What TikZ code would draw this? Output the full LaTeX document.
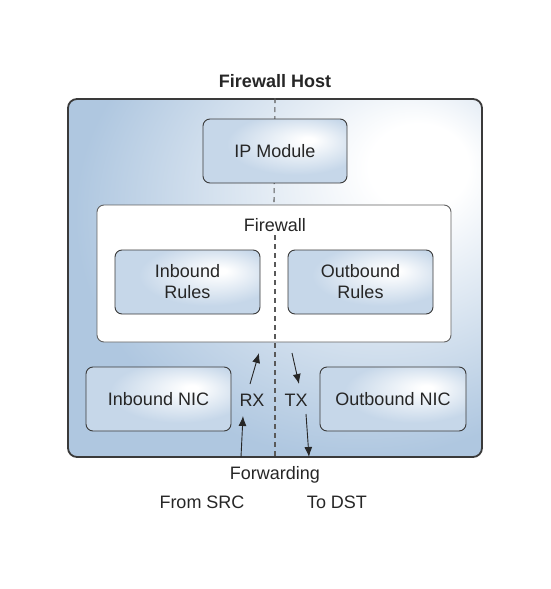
\documentclass[tikz,border=0pt]{standalone}
\usepackage{fontspec}
\setmainfont{Liberation Sans}
\usetikzlibrary{arrows.meta}
\definecolor{hostblue}{HTML}{AFC7E0}
\definecolor{boxblue}{HTML}{C6D7E9}
\definecolor{edgegray}{HTML}{3A3A3A}
\pgfdeclareradialshading{hostglow}{\pgfpoint{19bp}{17bp}}{color(0bp)=(white); color(6bp)=(white); color(34bp)=(hostblue); color(70bp)=(hostblue)}
\pgfdeclareradialshading{boxglow}{\pgfpoint{12bp}{9bp}}{color(0bp)=(white); color(2bp)=(white); color(24bp)=(boxblue); color(60bp)=(boxblue)}
\begin{document}
\begin{tikzpicture}[x=1pt,y=-1pt,
    every node/.style={font=\fontsize{18}{21}\selectfont, text=black!85},
    hostbox/.style={draw=edgegray, line width=1.8pt, rounded corners=9pt, shade, shading=hostglow},
    unitbox/.style={draw=edgegray, line width=0.9pt, rounded corners=7pt, shade, shading=boxglow, align=center, minimum width=145pt, minimum height=64pt},
    fwbox/.style={draw=edgegray!80, line width=0.9pt, fill=white, rounded corners=7pt},
    divider/.style={draw=black!65, line width=1.1pt, dash pattern=on 5pt off 4pt},
    flow/.style={draw=black!85, line width=0.9pt, -{Latex[length=10pt,width=8pt]}}]
      \useasboundingbox (0,0) rectangle (550,589);

      \node[font=\fontsize{18}{21}\selectfont\bfseries] (title) at (275,81) {Firewall Host};
      \node[hostbox, minimum width=414pt, minimum height=358pt] (host) at (275,278) {};

      \node[fwbox, minimum width=354pt, minimum height=137pt] (fw) at (274,273.5) {};
      \node (fwlabel) at (275,225) {Firewall};

      \draw[divider] (host.north) -- (fw.north);
      \draw[divider] (fwlabel.south) -- (host.south);

      \node[unitbox, minimum width=144pt] (ipm) at (275,151) {IP Module};
      \node[unitbox] (inrules) at (187.5,282) {Inbound\\Rules};
      \node[unitbox] (outrules) at (360.5,282) {Outbound\\Rules};
      \node[unitbox] (innic) at (158.5,399) {Inbound NIC};
      \node[unitbox, minimum width=146pt] (outnic) at (393,399) {Outbound NIC};

      \node (rx) at (252,400) {RX};
      \node (tx) at (296,400) {TX};

      \coordinate (rxin) at (241,457);
      \coordinate (rxmid) at (243,416);
      \coordinate (rxlow) at (250,384);
      \coordinate (rxup) at (259,353);
      \coordinate (txup) at (292,353);
      \coordinate (txlow) at (299,384);
      \coordinate (txmid) at (306,414);
      \coordinate (txout) at (309,457);

      \draw[flow] (rxin) -- (rxmid);
      \draw[flow] (rxlow) -- (rxup);
      \draw[flow] (txup) -- (txlow);
      \draw[flow] (txmid) -- (txout);

      \node (fwd) at (275,475) {Forwarding};
      \node (src) at (202,502) {From SRC};
      \node (dst) at (337,502) {To DST};
    \end{tikzpicture}
\end{document}
